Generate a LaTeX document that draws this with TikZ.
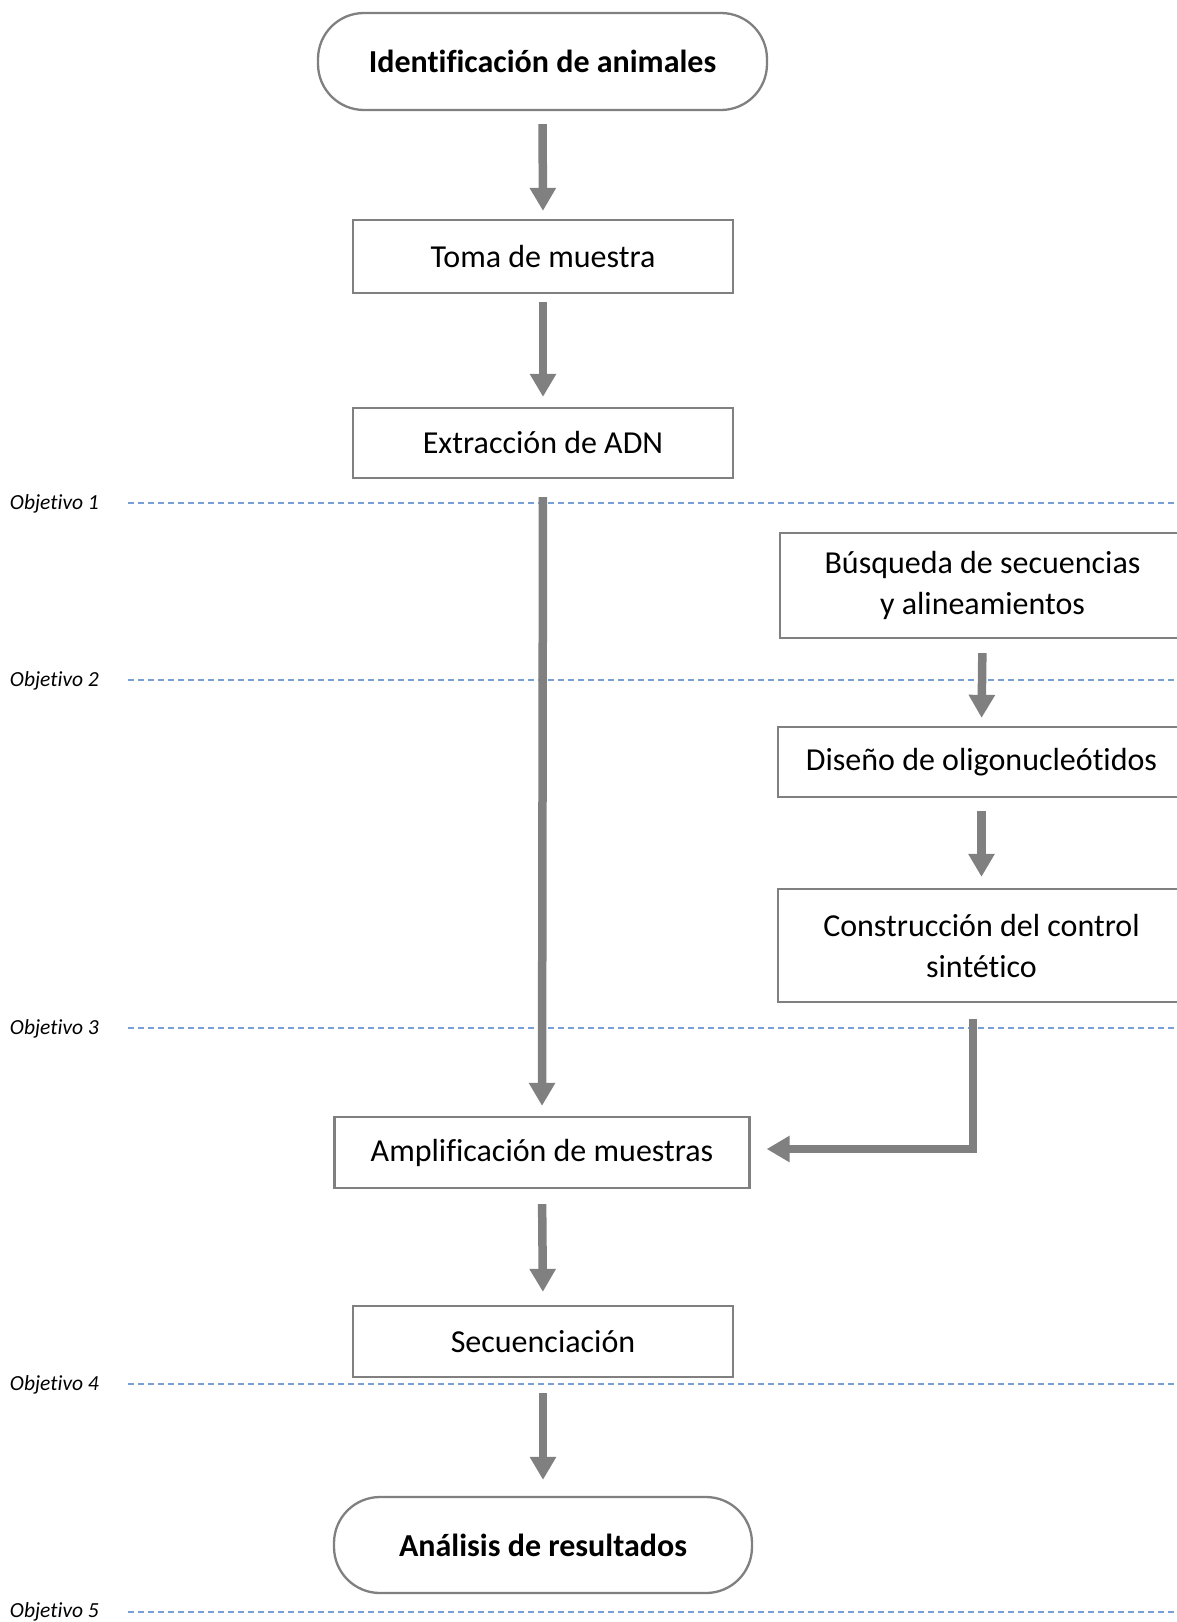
\documentclass[tikz,border=0pt]{standalone}
\usepackage{fontspec}
\setmainfont{Carlito}[Ligatures=NoCommon]
\usetikzlibrary{arrows.meta}
\definecolor{boxgray}{RGB}{128,128,128}
\definecolor{objblue}{RGB}{120,160,212}
\tikzset{
  procbox/.style={draw=boxgray, line width=2.3pt, fill=white, inner sep=0pt, align=center,
    font=\fontsize{32}{41}\selectfont},
  termbox/.style={procbox, rounded corners=46pt, font=\fontsize{32}{41}\selectfont\bfseries},
  flowarrow/.style={draw=boxgray, line width=8.5pt, -{Triangle[width=25pt,length=23pt]}},
  objline/.style={draw=objblue, line width=1.5pt, dash pattern=on 6pt off 4pt},
  objlabel/.style={anchor=east, inner sep=0pt, font=\fontsize{21.5}{26}\selectfont\itshape}
}
\begin{document}
\begin{tikzpicture}[x=1pt,y=-1pt]
\useasboundingbox (0,0) rectangle (1176,1622);
\fill[white] (0,0) rectangle (1176,1622);

% objective lines
\coordinate (o1a) at (128,503);  \coordinate (o1b) at (1176,503);
\coordinate (o2a) at (128,680);  \coordinate (o2b) at (1176,680);
\coordinate (o3a) at (128,1028); \coordinate (o3b) at (1176,1028);
\coordinate (o4a) at (128,1384); \coordinate (o4b) at (1176,1384);
\coordinate (o5a) at (128,1612); \coordinate (o5b) at (1176,1612);
\draw[objline] (o1a) -- (o1b);
\draw[objline] (o2a) -- (o2b);
\draw[objline] (o3a) -- (o3b);
\draw[objline] (o4a) -- (o4b);
\draw[objline] (o5a) -- (o5b);
\node[objlabel] (l1) at (99,504) {Objetivo 1};
\node[objlabel] (l2) at (99,681) {Objetivo 2};
\node[objlabel] (l3) at (99,1029) {Objetivo 3};
\node[objlabel] (l4) at (99,1385) {Objetivo 4};
\node[objlabel] (l5) at (99,1612) {Objetivo 5};

% nodes
\node[termbox, minimum width=449pt, minimum height=97pt] (start) at (542.5,61.5) {Identificación de animales};
\node[procbox, minimum width=380pt, minimum height=73pt] (toma) at (543,256.5) {Toma de muestra};
\node[procbox, minimum width=380pt, minimum height=70pt] (extr) at (543,443) {Extracción de ADN};
\node[procbox, minimum width=405pt, minimum height=105pt] (busq) at (982.5,585.5) {Búsqueda de secuencias\\y alineamientos};
\node[procbox, minimum width=407pt, minimum height=70pt] (dise) at (981.5,762) {Diseño de oligonucleótidos};
\node[procbox, minimum width=407pt, minimum height=113pt] (cons) at (981.5,945.5) {Construcción del control\\sintético};
\node[procbox, minimum width=415pt, minimum height=71pt] (ampl) at (542,1152.5) {Amplificación de muestras};
\node[procbox, minimum width=380pt, minimum height=71pt] (secu) at (543,1341.5) {Secuenciación};
\node[termbox, minimum width=418pt, minimum height=96pt] (anal) at (543,1545) {Análisis de resultados};

% arrows
\draw[flowarrow, shorten <=13pt, shorten >=8pt] (start.south) -- (toma.north);
\draw[flowarrow, shorten <=8pt, shorten >=10pt] (toma.south) -- (extr.north);
\draw[flowarrow, shorten <=18pt, shorten >=10pt] (extr.south) -- (ampl.north);
\draw[flowarrow, shorten <=14pt, shorten >=8pt] (busq.south) -- (dise.north);
\draw[flowarrow, shorten <=13pt, shorten >=11pt] (dise.south) -- (cons.north);
\coordinate (e1) at (973,1019);
\draw[flowarrow, shorten >=16pt] (e1) |- ([yshift=3.5pt]ampl.east);
\draw[flowarrow, shorten <=15pt, shorten >=13pt] (ampl.south) -- (secu.north);
\draw[flowarrow, shorten <=15pt, shorten >=16pt] (secu.south) -- (anal.north);
\end{tikzpicture}
\end{document}
